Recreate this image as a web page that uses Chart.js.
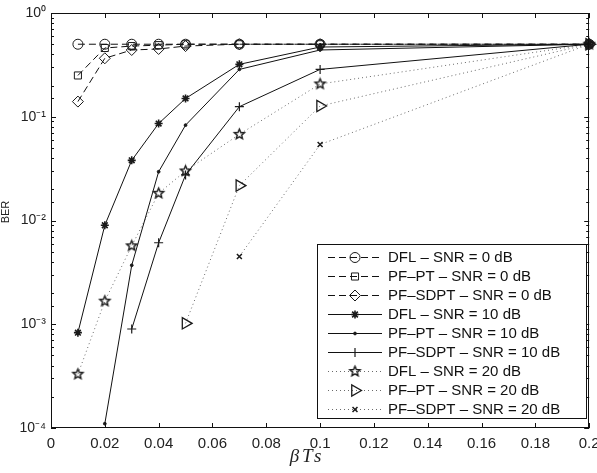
<!DOCTYPE html>
<html><head><meta charset="utf-8">
<script src="https://cdn.jsdelivr.net/npm/chart.js@4/dist/chart.umd.min.js"></script>
<style>html,body{margin:0;padding:0;background:#fff}canvas{display:block}</style>
</head><body>
<canvas id="c" width="597" height="473"></canvas>
<script>
// ---- data ----
const betaTs = [0.01, 0.02, 0.03, 0.04, 0.05, 0.07, 0.1, 0.2];
const dfl0    = [0.5, 0.5, 0.5, 0.5, 0.5, 0.5, 0.5, 0.5];
const pfpt0   = [0.25, 0.46, 0.48, 0.49, 0.5, 0.5, 0.5, 0.5];
const pfsdpt0 = [0.14, 0.366, 0.44, 0.45, 0.48, 0.5, 0.5, 0.5];
const dfl10   = [8.3e-4, 0.0090, 0.038, 0.086, 0.15, 0.32, 0.47, 0.5];
const pfpt10  = [null, 1.1e-4, 0.0037, 0.0295, 0.083, 0.286, 0.44, 0.5];
const pfsdpt10= [null, null, 9.0e-4, 0.0061, 0.0275, 0.125, 0.286, 0.5];
const dfl20   = [3.3e-4, 1.67e-3, 5.7e-3, 0.0183, 0.030, 0.0677, 0.207, 0.5];
const pfpt20  = [null, null, null, null, 1.02e-3, 0.0217, 0.127, 0.5];
const pfsdpt20= [null, null, null, null, null, 4.5e-3, 0.054, 0.5];
const seriesLabels = [
  'DFL – SNR = 0 dB', 'PF–PT – SNR = 0 dB', 'PF–SDPT – SNR = 0 dB',
  'DFL – SNR = 10 dB', 'PF–PT – SNR = 10 dB', 'PF–SDPT – SNR = 10 dB',
  'DFL – SNR = 20 dB', 'PF–PT – SNR = 20 dB', 'PF–SDPT – SNR = 20 dB'
];
const xTickValues = [0, 0.02, 0.04, 0.06, 0.08, 0.1, 0.12, 0.14, 0.16, 0.18, 0.2];
const xTitle = 'βTs';
const yTitle = 'BER';

// ---- styling ----
function makePentagram(r) {
  const size = Math.ceil(r * 2 + 4);
  const c = document.createElement('canvas');
  c.width = size; c.height = size;
  const g = c.getContext('2d');
  g.beginPath();
  for (let i = 0; i < 10; i++) {
    const a = -Math.PI / 2 + i * Math.PI / 5;
    const rad = (i % 2) ? r * 0.45 : r;
    const px = size / 2 + rad * Math.cos(a), py = size / 2 + rad * Math.sin(a);
    if (i === 0) g.moveTo(px, py); else g.lineTo(px, py);
  }
  g.closePath();
  g.strokeStyle = '#1a1a1a'; g.lineWidth = 1.4; g.stroke();
  return c;
}
const pentagram = makePentagram(5.3);

const DASH = [7, 4], DOT = [1, 3], SOLID = [];
const styles = [
  {dash: DASH, ps: 'circle', r: 5, rot: 0, fill: false},
  {dash: DASH, ps: 'rect', r: 5, rot: 0, fill: false},
  {dash: DASH, ps: 'rectRot', r: 5.5, rot: 0, fill: false},
  {dash: SOLID, ps: 'star', r: 4, rot: 0, fill: false, bw: 1.6},
  {dash: SOLID, ps: 'circle', r: 1.4, rot: 0, fill: true},
  {dash: SOLID, ps: 'cross', r: 4.5, rot: 0, fill: false, bw: 1.2},
  {dash: DOT, ps: pentagram, r: 5, rot: 0, fill: false},
  {dash: DOT, ps: 'triangle', r: 6.5, rot: 90, fill: false, bw: 1.3},
  {dash: DOT, ps: 'crossRot', r: 3.5, rot: 0, fill: false, bw: 1.5}
];
const allSeries = [dfl0, pfpt0, pfsdpt0, dfl10, pfpt10, pfsdpt10, dfl20, pfpt20, pfsdpt20];

const datasets = allSeries.map((vals, i) => {
  const s = styles[i];
  const pts = [];
  vals.forEach((v, j) => { if (v !== null) pts.push({x: betaTs[j], y: v}); });
  const dotted = s.dash === DOT;
  return {
    label: seriesLabels[i],
    data: pts,
    borderColor: dotted ? '#6a6a6a' : '#111',
    borderWidth: 1,
    borderDash: s.dash,
    pointStyle: s.ps,
    pointRadius: s.r,
    pointRotation: s.rot,
    pointBorderColor: '#1a1a1a',
    pointBackgroundColor: s.fill ? '#1a1a1a' : 'rgba(0,0,0,0)',
    pointBorderWidth: s.bw || 1,
    pointHoverRadius: s.r,
    fill: false,
    tension: 0,
    clip: false
  };
});

function sup(n) {
  const m = {'-': '⁻', '0': '⁰', '1': '¹', '2': '²', '3': '³', '4': '⁴', '5': '⁵', '6': '⁶', '7': '⁷', '8': '⁸', '9': '⁹'};
  return String(n).split('').map(ch => m[ch]).join('');
}

const frame = {
  id: 'frame',
  afterDraw(chart) {
    const ctx = chart.ctx, a = chart.chartArea;
    const xs = chart.scales.x, ys = chart.scales.y;
    ctx.save();
    ctx.strokeStyle = '#111';
    ctx.lineWidth = 1;
    ctx.setLineDash([]);
    // box
    ctx.strokeRect(Math.round(a.left) + 0.5, Math.round(a.top) + 0.5, Math.round(a.right - a.left) - 1, Math.round(a.bottom - a.top) - 1);
    // x ticks (inward, bottom and top)
    ctx.beginPath();
    xs.ticks.forEach(t => {
      const px = Math.round(xs.getPixelForValue(t.value)) + 0.5;
      ctx.moveTo(px, a.bottom); ctx.lineTo(px, a.bottom - 5);
      ctx.moveTo(px, a.top); ctx.lineTo(px, a.top + 5);
    });
    // y ticks (inward, left and right), minor ones shorter
    ys.ticks.forEach(t => {
      const e = Math.log10(t.value);
      const major = Math.abs(e - Math.round(e)) < 1e-9;
      const len = major ? 5 : 3;
      const py = Math.round(ys.getPixelForValue(t.value)) + 0.5;
      ctx.moveTo(a.left, py); ctx.lineTo(a.left + len, py);
      ctx.moveTo(a.right, py); ctx.lineTo(a.right - len, py);
    });
    ctx.stroke();

    // axis titles
    ctx.fillStyle = '#222';
    ctx.save();
    ctx.translate(6, 212);
    ctx.rotate(-Math.PI / 2);
    ctx.font = '11px "Liberation Sans", Arial, sans-serif';
    ctx.textAlign = 'center'; ctx.textBaseline = 'middle';
    ctx.fillText(yTitle, 0, 0);
    ctx.restore();
    ctx.font = 'italic 19px "Liberation Serif", "Times New Roman", serif';
    try { ctx.letterSpacing = '3px'; } catch (e) {}
    ctx.textAlign = 'center'; ctx.textBaseline = 'middle';
    ctx.fillText(xTitle, 307, 457);
    try { ctx.letterSpacing = '0px'; } catch (e) {}

    // legend
    const L = 317, T = 244, R = 587, B = 419;
    ctx.fillStyle = '#fff';
    ctx.fillRect(L, T, R - L, B - T);
    ctx.strokeStyle = '#111';
    ctx.strokeRect(L + 0.5, T + 0.5, R - L - 1, B - T - 1);
    const rowH = 19.04, y0 = 256.7;
    chart.data.datasets.forEach((ds, i) => {
      const y = Math.round(y0 + i * rowH) + 0.5;
      ctx.save();
      ctx.strokeStyle = ds.borderColor;
      ctx.lineWidth = 1;
      ctx.setLineDash(ds.borderDash);
      ctx.beginPath(); ctx.moveTo(328, y); ctx.lineTo(382, y); ctx.stroke();
      ctx.setLineDash([]);
      ctx.strokeStyle = ds.pointBorderColor;
      ctx.fillStyle = ds.pointBackgroundColor;
      ctx.lineWidth = ds.pointBorderWidth;
      const opts = {pointStyle: ds.pointStyle, radius: ds.pointRadius, rotation: ds.pointRotation, borderWidth: ds.pointBorderWidth};
      if (Chart.helpers && Chart.helpers.drawPoint) {
        Chart.helpers.drawPoint(ctx, opts, 355, y);
      }
      ctx.restore();
      ctx.fillStyle = '#111';
      ctx.font = '15px "Liberation Sans", Arial, sans-serif';
      ctx.textAlign = 'left'; ctx.textBaseline = 'middle';
      ctx.fillText(ds.label, 388, y + 0.5);
    });
    ctx.restore();
  }
};

new Chart(document.getElementById('c'), {
  type: 'line',
  data: {datasets},
  options: {
    responsive: false,
    animation: false,
    events: [],
    layout: {padding: {left: 0, top: 13, right: 7, bottom: 0}},
    plugins: {legend: {display: false}, tooltip: {enabled: false}},
    scales: {
      x: {
        type: 'linear', min: 0, max: 0.2,
        grid: {display: false, drawTicks: false},
        border: {display: false},
        afterBuildTicks: s => { s.ticks = xTickValues.map(v => ({value: v})); },
        afterFit: s => { s.height = 45; s.paddingLeft = 0; s.paddingRight = 0; },
        ticks: {
          autoSkip: false, maxRotation: 0, padding: 7, color: '#222',
          font: {family: '"Liberation Sans", Arial, sans-serif', size: 15},
          callback: v => String(Number(v.toFixed(2)))
        }
      },
      y: {
        type: 'logarithmic', min: 1e-4, max: 1,
        grid: {display: false, drawTicks: false},
        border: {display: false},
        afterFit: s => { s.width = 51; s.paddingTop = 0; s.paddingBottom = 0; },
        ticks: {
          autoSkip: false, padding: 5, color: '#222',
          font: {family: '"Liberation Sans", Arial, sans-serif', size: 14},
          callback: v => {
            const e = Math.log10(v);
            const r = Math.round(e);
            return Math.abs(e - r) < 1e-9 ? '10' + sup(r) : '';
          }
        }
      }
    }
  },
  plugins: [frame]
});
</script>
</body></html>
